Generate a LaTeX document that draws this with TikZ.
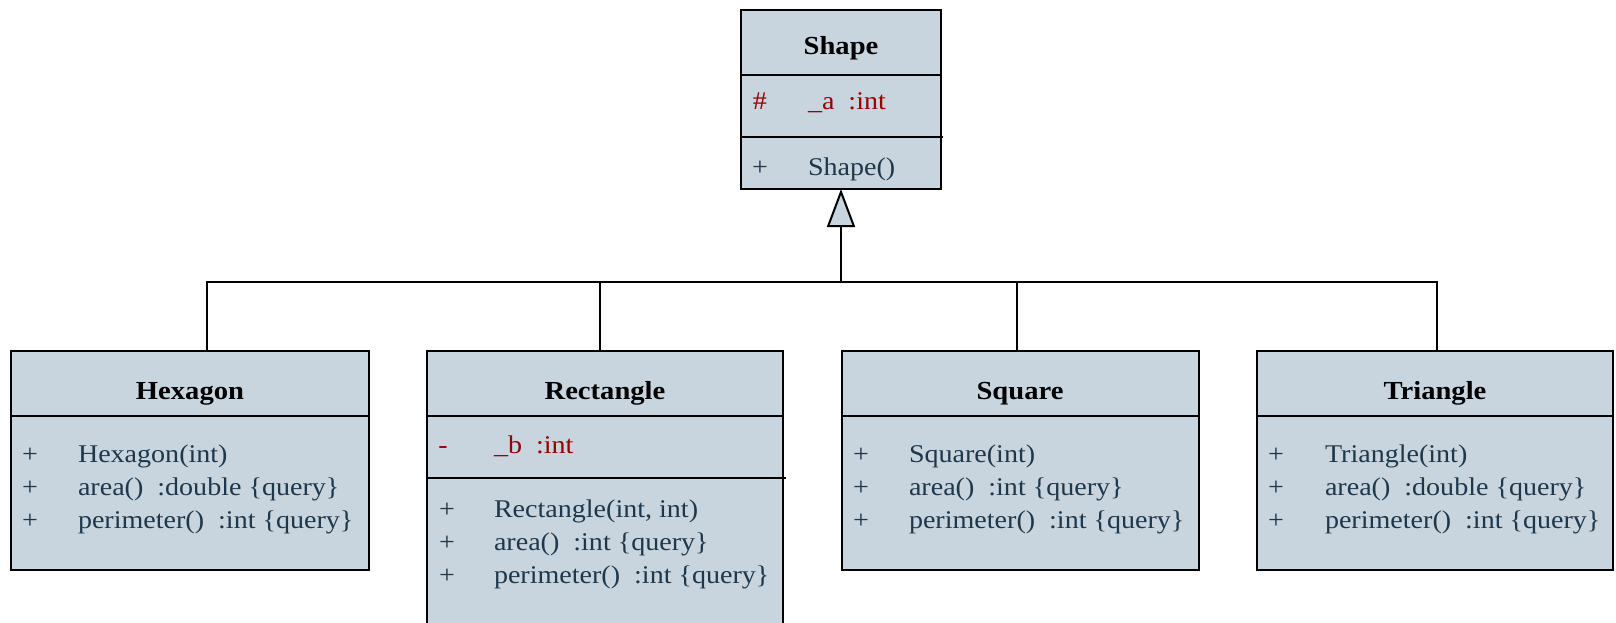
\documentclass[tikz,border=0pt]{standalone}
\usepackage{fontspec}
\setmainfont{Liberation Serif}[FakeStretch=1.1]
\usetikzlibrary{arrows.meta}

\definecolor{boxfill}{RGB}{200,213,222}
\definecolor{membertext}{RGB}{30,55,75}
\definecolor{attrtext}{RGB}{153,0,0}

\tikzset{every picture/.style={line width=2pt}}

\begin{document}
\begin{tikzpicture}[x=1pt,y=1pt,yscale=-1,xscale=1,
	classbox/.style={draw=black, fill=boxfill, inner sep=0pt, outer sep=0pt, anchor=north west},
	classname/.style={font=\fontsize{26}{30}\selectfont\bfseries, anchor=base, inner sep=0pt},
	member/.style={font=\fontsize{25.5}{33}\selectfont, text=membertext, anchor=base west, inner sep=0pt},
	vis/.style={font=\fontsize{25.5}{33}\selectfont, text=membertext, anchor=base, inner sep=0pt},
	field/.style={member, text=attrtext},
	fieldvis/.style={vis, text=attrtext},
	link/.style={draw=black, line width=2pt}]
	\useasboundingbox (0,0) rectangle (1616,623);

	%Class boxes
	\node[classbox, minimum width=200pt, minimum height=179pt] (shape) at (741,10) {};
	\node[classbox, minimum width=358pt, minimum height=219pt] (hex) at (11,351) {};
	\node[classbox, minimum width=356pt, minimum height=290pt] (rect) at (427,351) {};
	\node[classbox, minimum width=357pt, minimum height=219pt] (square) at (842,351) {};
	\node[classbox, minimum width=356pt, minimum height=219pt] (tri) at (1257,351) {};

	%Compartment lines
	\draw (shape.west |- 0,75) -- (shape.east |- 0,75);
	\draw (shape.west |- 0,137) -- ([xshift=2pt]shape.east |- 0,137);
	\draw (hex.west |- 0,416) -- (hex.east |- 0,416);
	\draw (rect.west |- 0,416) -- (rect.east |- 0,416);
	\draw (rect.west |- 0,478) -- ([xshift=3pt]rect.east |- 0,478);
	\draw (square.west |- 0,416) -- (square.east |- 0,416);
	\draw (tri.west |- 0,416) -- (tri.east |- 0,416);

	%Generalization
	\coordinate (bus) at (841,282);
	\draw[link] ([xshift=17pt]hex.north) |- (bus);
	\draw[link] ([xshift=-5pt]rect.north) |- (bus);
	\draw[link] ([xshift=-3.5pt]square.north) |- (bus);
	\draw[link] ([xshift=2pt]tri.north) |- (bus);
	\draw[link, -{Triangle[length=38pt, width=28pt, fill=boxfill]}] (bus) -- (shape.south);

	% Shape
	\node[classname] (shapetitle) at (841,55) {Shape};
	\node[fieldvis] (shapev1) at (760,110) {\#};
	\node[field] (shapef1) at (807,110) {\_a\ \ :int};
	\node[vis] (shapev2) at (760,175) {+};
	\node[member] (shapem1) at (807,175) {Shape()};

	% Hexagon
	\node[classname] (hextitle) at (190,399) {Hexagon};
	\node[vis] (hexv1) at (30,462) {+};
	\node[member] (hexm1) at (77,462) {Hexagon(int)};
	\node[vis] (hexv2) at (30,495) {+};
	\node[member] (hexm2) at (77,495) {area()\ \ :double \{query\}};
	\node[vis] (hexv3) at (30,528) {+};
	\node[member] (hexm3) at (77,528) {perimeter()\ \ :int \{query\}};

	% Rectangle
	\node[classname] (recttitle) at (605,399) {Rectangle};
	\node[fieldvis] (rectv0) at (443,453) {-};
	\node[field] (rectf1) at (493,453) {\_b\ \ :int};
	\node[vis] (rectv1) at (447,517) {+};
	\node[member] (rectm1) at (493,517) {Rectangle(int, int)};
	\node[vis] (rectv2) at (447,550) {+};
	\node[member] (rectm2) at (493,550) {area()\ \ :int \{query\}};
	\node[vis] (rectv3) at (447,583) {+};
	\node[member] (rectm3) at (493,583) {perimeter()\ \ :int \{query\}};

	% Square
	\node[classname] (squaretitle) at (1020,399) {Square};
	\node[vis] (squarev1) at (861,462) {+};
	\node[member] (squarem1) at (908,462) {Square(int)};
	\node[vis] (squarev2) at (861,495) {+};
	\node[member] (squarem2) at (908,495) {area()\ \ :int \{query\}};
	\node[vis] (squarev3) at (861,528) {+};
	\node[member] (squarem3) at (908,528) {perimeter()\ \ :int \{query\}};

	% Triangle
	\node[classname] (trititle) at (1435,399) {Triangle};
	\node[vis] (triv1) at (1276,462) {+};
	\node[member] (trim1) at (1324,462) {Triangle(int)};
	\node[vis] (triv2) at (1276,495) {+};
	\node[member] (trim2) at (1324,495) {area()\ \ :double \{query\}};
	\node[vis] (triv3) at (1276,528) {+};
	\node[member] (trim3) at (1324,528) {perimeter()\ \ :int \{query\}};

\end{tikzpicture}
\end{document}
